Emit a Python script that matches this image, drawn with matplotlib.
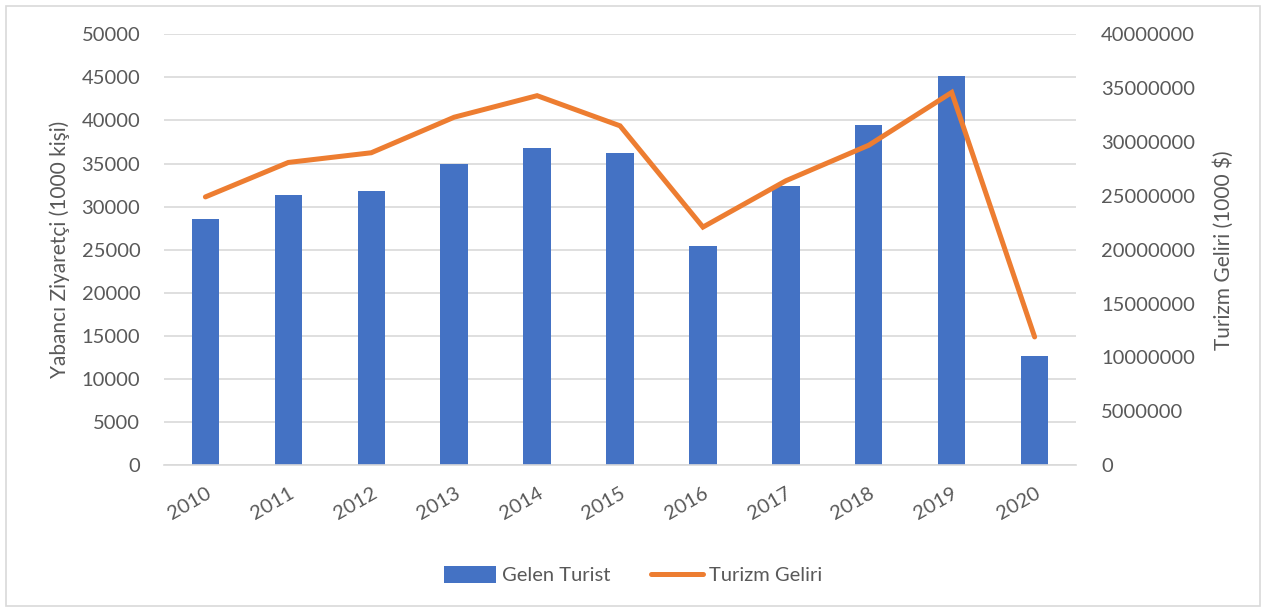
import numpy as np
import matplotlib.pyplot as plt

years = ['2010', '2011', '2012', '2013', '2014', '2015', '2016', '2017', '2018', '2019', '2020']
gelen_turist = [28600, 31400, 31800, 35000, 36800, 36200, 25400, 32400, 39500, 45100, 12700]
turizm_geliri = [24900000, 28100000, 29000000, 32300000, 34300000, 31500000,
                 22100000, 26400000, 29700000, 34600000, 11900000]

text_color = '#595959'
plt.rcParams['font.family'] = ['Lato', 'DejaVu Sans']

fig = plt.figure(figsize=(12.66, 6.12), dpi=100)
ax = fig.add_axes([0.1295, 0.240, 0.7205, 0.704])
ax2 = ax.twinx()

x = np.arange(len(years))
bars = ax.bar(x, gelen_turist, width=0.33, color='#4472C4', zorder=2, label='Gelen Turist')
line, = ax2.plot(x, turizm_geliri, color='#ED7D31', linewidth=3.6,
                 solid_capstyle='round', solid_joinstyle='miter', label='Turizm Geliri')

ax.set_xlim(-0.5, len(years) - 0.5)
ax.set_ylim(0, 50000)
ax.set_yticks(np.arange(0, 50001, 5000))
ax2.set_ylim(0, 40000000)
ax2.set_yticks(np.arange(0, 40000001, 5000000))
ax2.yaxis.set_major_formatter(plt.FuncFormatter(lambda v, p: f'{int(v)}'))

ax.grid(axis='y', color='#D9D9D9', linewidth=1.2, zorder=0)
ax.set_axisbelow(True)
for a in (ax, ax2):
    for s in a.spines.values():
        s.set_visible(False)
    a.tick_params(length=0, labelsize=14.5, labelcolor=text_color)
ax.spines['bottom'].set_visible(True)
ax.spines['bottom'].set_color('#D9D9D9')
ax.spines['bottom'].set_linewidth(1.2)

ax.set_xticks(x)
ax.set_xticklabels(years, rotation=30, ha='right', rotation_mode='anchor')
ax.tick_params(axis='x', pad=14)
ax.tick_params(axis='y', pad=17)
ax2.tick_params(axis='y', pad=18)

ax.set_ylabel('Yabancı Ziyaretçi (1000 kişi)', fontsize=15, color=text_color, labelpad=8)
ax2.set_ylabel('Turizm Geliri (1000 $)', fontsize=15, color=text_color, labelpad=13)

fig.legend([bars, line], ['Gelen Turist', 'Turizm Geliri'], loc='center',
           bbox_to_anchor=(0.5, 0.06), ncol=2, frameon=False, fontsize=14.5,
           labelcolor=text_color, handlelength=2.6, handleheight=0.9,
           columnspacing=2.0, handletextpad=0.3)

border = plt.Rectangle((0.005, 0.01), 0.99, 0.98, transform=fig.transFigure,
                       fill=False, edgecolor='#D9D9D9', linewidth=1.2)
fig.patches.append(border)

fig.savefig('out.png', dpi=100)
